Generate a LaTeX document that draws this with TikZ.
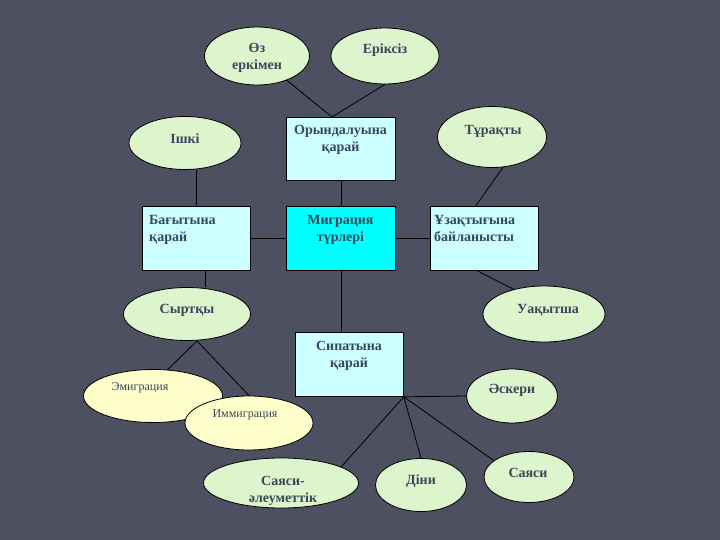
\documentclass[tikz,border=0pt]{standalone}
\usepackage{fontspec}
\setmainfont{Liberation Serif}
\usetikzlibrary{shapes.geometric,calc}
\pgfdeclarelayer{back}
\pgfdeclarelayer{lines}
\pgfsetlayers{back,lines,main}
\definecolor{bgc}{RGB}{77,80,96}
\definecolor{ellg}{RGB}{221,245,204}
\definecolor{elly}{RGB}{255,255,204}
\definecolor{boxc}{RGB}{204,255,255}
\definecolor{boxm}{RGB}{0,255,255}
\definecolor{txtc}{RGB}{56,72,90}
\tikzset{
  ell/.style={ellipse, draw=black, line width=0.8pt, fill=ellg, inner sep=0pt},
  elly/.style={ell, fill=elly},
  box/.style={rectangle, draw=black, line width=0.8pt, fill=boxc, inner sep=0pt, anchor=north west},
  boxmid/.style={box, fill=boxm},
  txt/.style={text=txtc, font=\fontsize{14}{17.5}\selectfont\bfseries, inner sep=0pt, align=center},
  txtl/.style={txt, align=left, anchor=north west},
  txts/.style={text=txtc, font=\fontsize{12}{14}\selectfont, inner sep=0pt},
  conn/.style={draw=black, line width=0.8pt}
}
\begin{document}
\begin{tikzpicture}[x=1pt,y=-1pt]
\begin{pgfonlayer}{back}
\fill[bgc] (0,0) rectangle (720,540);
\end{pgfonlayer}
\useasboundingbox (0,0) rectangle (720,540);
% ellipses
\node[ell, minimum width=105, minimum height=58] (oz) at (257,56) {};
\node[ell, minimum width=108, minimum height=56] (erik) at (385,56) {};
\node[ell, minimum width=112, minimum height=53] (ishki) at (185,143) {};
\node[ell, minimum width=109, minimum height=61] (tur) at (492,137) {};
\node[ell, minimum width=127, minimum height=53] (syr) at (187,314) {};
\node[ell, minimum width=122, minimum height=56] (uaq) at (544,314) {};
\node[elly, minimum width=139, minimum height=53] (em) at (153,396) {};
\node[elly, minimum width=128, minimum height=54] (imm) at (249,423) {};
\node[ell, minimum width=91, minimum height=54] (ask) at (512,396) {};
\node[ell, minimum width=155, minimum height=50] (sael) at (281,483) {};
\node[ell, minimum width=91, minimum height=53] (dini) at (421,485) {};
\node[ell, minimum width=90, minimum height=51] (saya) at (529,477) {};
% boxes
\node[box, minimum width=109, minimum height=63] (orynd) at (286,117) {};
\node[box, minimum width=108, minimum height=64] (bag) at (142,206) {};
\node[boxmid, minimum width=109, minimum height=64] (mig) at (286,206) {};
\node[box, minimum width=108, minimum height=64] (uzak) at (430,206) {};
\node[box, minimum width=108, minimum height=64] (sip) at (295,332) {};
% texts
\node[txt] (toz) at (257,58) {Өз\\еркімен};
\node[txt] (terik) at (385,50) {Еріксіз};
\node[txt] (tishki) at (185,139) {Ішкі};
\node[txt, anchor=north] (torynd) at (340.5,125) {Орындалуына\\қарай};
\node[txt] (ttur) at (493,131) {Тұрақты};
\node[txtl] (tbag) at (149,215) {Бағытына\\қарай};
\node[txt, anchor=north] (tmig) at (340.5,215) {Миграция\\түрлері};
\node[txtl] (tuzak) at (434,215) {Ұзақтығына\\байланысты};
\node[txt] (tsyr) at (187,310) {Сыртқы};
\node[txt] (tuaq) at (548,310) {Уақытша};
\node[txt, anchor=north] (tsip) at (349,341) {Сипатына\\қарай};
\node[txts] (tem) at (140,388) {Эмиграция};
\node[txts] (timm) at (245,415) {Иммиграция};
\node[txt] (task) at (512,390) {Әскери};
\node[txt] (tsael) at (283,491) {Саяси-\\әлеуметтік};
\node[txt] (tdini) at (421,481) {Діни};
\node[txt] (tsaya) at (528,473) {Саяси};
% connector points
\coordinate (ot) at ($(orynd.north)+(-9,0)$);
\coordinate (bagb) at ($(bag.south west)!0.58!(bag.south east)$);
\coordinate (uzt) at ($(uzak.north west)!0.42!(uzak.north east)$);
\coordinate (uzb) at ($(uzak.south west)!0.435!(uzak.south east)$);
\coordinate (sb) at ($(syr.south)+(10,0)$);
\begin{pgfonlayer}{lines}
\draw[conn] (oz.center) -- (ot);
\draw[conn] (erik.south) -- (ot);
\draw[conn] (bag.north) -- (bag.north |- ishki.south);
\draw[conn] (orynd.south) -- (mig.north);
\draw[conn] (bag.east) -- (mig.west);
\draw[conn] (mig.east) -- (uzak.west);
\draw[conn] (tur.-70) -- (uzt);
\draw[conn] (bagb) -- (bagb |- syr.north);
\draw[conn] (mig.south) -- (mig.south |- sip.north);
\draw[conn] (uzb) -- (uaq.141);
\draw[conn] (sb) -- (em.61);
\draw[conn] (sb) -- (imm.north);
\draw[conn] (sip.south east) -- (ask.west);
\draw[conn] (sip.south east) -- (sael.15);
\draw[conn] (sip.south east) -- (dini.north);
\draw[conn] (sip.south east) -- (saya.155);
\end{pgfonlayer}
\end{tikzpicture}
\end{document}
